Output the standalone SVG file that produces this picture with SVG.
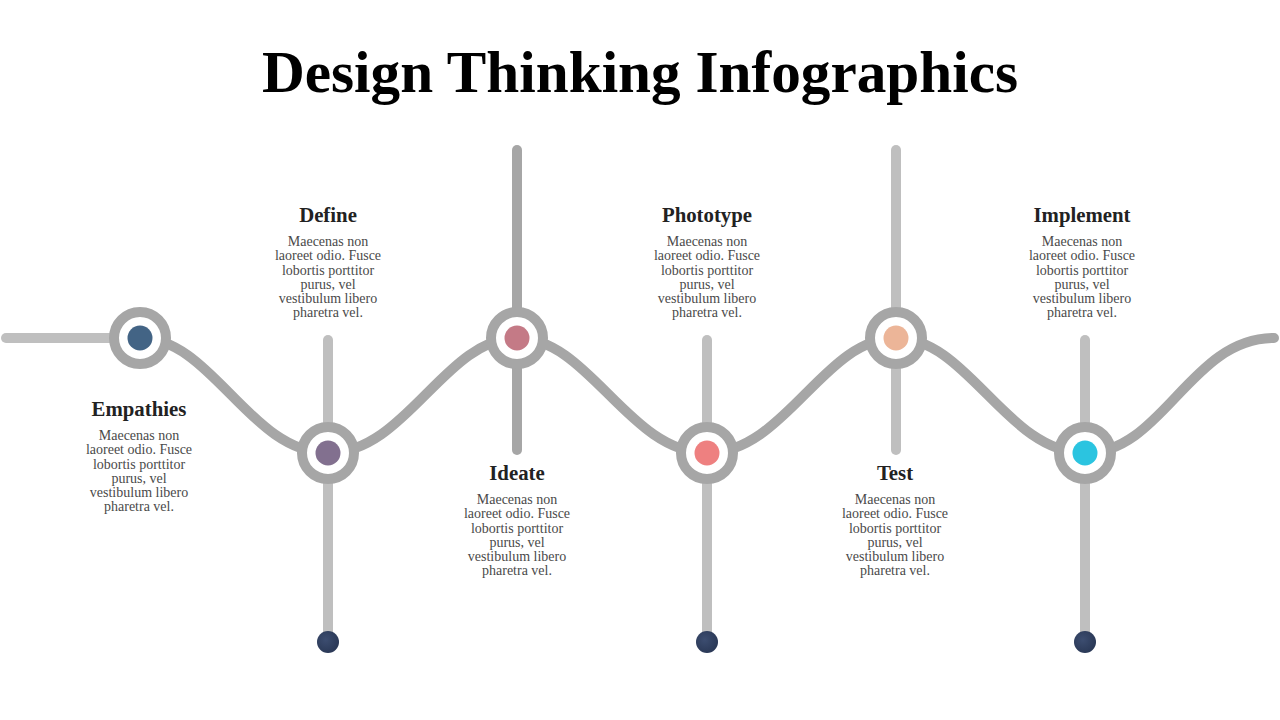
<svg xmlns="http://www.w3.org/2000/svg" width="1280" height="720" viewBox="0 0 1280 720">
<defs>
<style>
.title{font-family:"Liberation Serif",serif;font-weight:bold;font-size:60px;fill:#000;text-anchor:middle}
.head{font-family:"Liberation Serif",serif;font-weight:bold;font-size:20.8px;fill:#222;text-anchor:middle}
.body{font-family:"Liberation Serif",serif;font-size:14px;fill:#4a4a4a;text-anchor:middle}
.lt{stroke:#bfbfbf;stroke-width:10;stroke-linecap:round;fill:none}
.dk{stroke:#a6a6a6;stroke-width:10;stroke-linecap:round;fill:none}
.ring{fill:#fff;stroke:#a6a6a6;stroke-width:10}
.end{fill:url(#navy)}
</style>
<radialGradient id="navy" cx="0.4" cy="0.4" r="0.7">
<stop offset="0" stop-color="#3c4d70"/>
<stop offset="1" stop-color="#283653"/>
</radialGradient>
</defs>
<rect width="1280" height="720" fill="#fff"/>
<text class="title" x="640" y="92" textLength="756" lengthAdjust="spacingAndGlyphs">Design Thinking Infographics</text>
<g id="connectors">
<line class="lt" x1="6" y1="338" x2="140" y2="338"/>
<line class="lt" x1="328" y1="340" x2="328" y2="640"/>
<line class="dk" x1="517" y1="150" x2="517" y2="450"/>
<line class="lt" x1="707" y1="340" x2="707" y2="640"/>
<line class="lt" x1="896" y1="150" x2="896" y2="450"/>
<line class="lt" x1="1085" y1="340" x2="1085" y2="640"/>
<path class="dk" d="M140,338 C212,338 250,453 328,453 C406,453 445,338 517,338 C589,338 629,453 707,453 C785,453 824,338 896,338 C968,338 1007,453 1085,453 C1163,453 1190,338 1274,338"/>
</g>
<g id="n1"><circle class="ring" cx="140" cy="338" r="26"/><circle cx="140" cy="338" r="12.5" fill="#436485"/>
<text class="head" x="139" y="416">Empathies</text>
<text class="body" x="139" y="440">Maecenas non</text><text class="body" x="139" y="454">laoreet odio. Fusce</text><text class="body" x="139" y="468.5">lobortis porttitor</text><text class="body" x="139" y="482.5">purus, vel</text><text class="body" x="139" y="497">vestibulum libero</text><text class="body" x="139" y="511">pharetra vel.</text></g>
<g id="n2"><circle class="ring" cx="328" cy="453" r="26"/><circle cx="328" cy="453" r="12.5" fill="#82708f"/><circle class="end" cx="328" cy="642" r="11"/>
<text class="head" x="328" y="222">Define</text>
<text class="body" x="328" y="246">Maecenas non</text><text class="body" x="328" y="260">laoreet odio. Fusce</text><text class="body" x="328" y="274.5">lobortis porttitor</text><text class="body" x="328" y="288.5">purus, vel</text><text class="body" x="328" y="303">vestibulum libero</text><text class="body" x="328" y="317">pharetra vel.</text></g>
<g id="n3"><circle class="ring" cx="517" cy="338" r="26"/><circle cx="517" cy="338" r="12.5" fill="#c47a86"/>
<text class="head" x="517" y="480">Ideate</text>
<text class="body" x="517" y="504">Maecenas non</text><text class="body" x="517" y="518">laoreet odio. Fusce</text><text class="body" x="517" y="532.5">lobortis porttitor</text><text class="body" x="517" y="546.5">purus, vel</text><text class="body" x="517" y="561">vestibulum libero</text><text class="body" x="517" y="575">pharetra vel.</text></g>
<g id="n4"><circle class="ring" cx="707" cy="453" r="26"/><circle cx="707" cy="453" r="12.5" fill="#ee8080"/><circle class="end" cx="707" cy="642" r="11"/>
<text class="head" x="707" y="222">Phototype</text>
<text class="body" x="707" y="246">Maecenas non</text><text class="body" x="707" y="260">laoreet odio. Fusce</text><text class="body" x="707" y="274.5">lobortis porttitor</text><text class="body" x="707" y="288.5">purus, vel</text><text class="body" x="707" y="303">vestibulum libero</text><text class="body" x="707" y="317">pharetra vel.</text></g>
<g id="n5"><circle class="ring" cx="896" cy="338" r="26"/><circle cx="896" cy="338" r="12.5" fill="#ecb598"/>
<text class="head" x="895" y="480">Test</text>
<text class="body" x="895" y="504">Maecenas non</text><text class="body" x="895" y="518">laoreet odio. Fusce</text><text class="body" x="895" y="532.5">lobortis porttitor</text><text class="body" x="895" y="546.5">purus, vel</text><text class="body" x="895" y="561">vestibulum libero</text><text class="body" x="895" y="575">pharetra vel.</text></g>
<g id="n6"><circle class="ring" cx="1085" cy="453" r="26"/><circle cx="1085" cy="453" r="12.5" fill="#2bc4e0"/><circle class="end" cx="1085" cy="642" r="11"/>
<text class="head" x="1082" y="222">Implement</text>
<text class="body" x="1082" y="246">Maecenas non</text><text class="body" x="1082" y="260">laoreet odio. Fusce</text><text class="body" x="1082" y="274.5">lobortis porttitor</text><text class="body" x="1082" y="288.5">purus, vel</text><text class="body" x="1082" y="303">vestibulum libero</text><text class="body" x="1082" y="317">pharetra vel.</text></g>
</svg>
